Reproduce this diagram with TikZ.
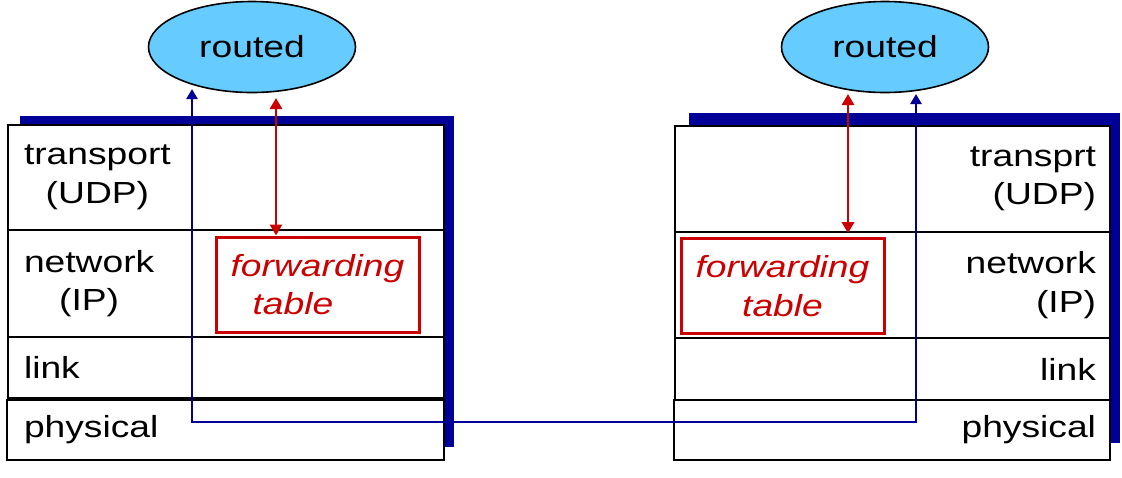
\documentclass[tikz,border=0pt]{standalone}
\usepackage{fontspec}
\setmainfont[FakeStretch=1.22]{Liberation Sans}
\usetikzlibrary{shapes.geometric,arrows.meta}
\definecolor{navy}{RGB}{0,0,153}
\definecolor{ctlred}{RGB}{204,0,0}
\definecolor{sky}{RGB}{102,204,255}
\tikzset{
  layer/.style={draw, fill=white, line width=2.4pt, inner sep=0pt},
  lbl/.style={font=\fontsize{30.5}{38.5}\selectfont, inner sep=0pt},
  daemon/.style={ellipse, draw, line width=1.6pt, fill=sky, inner sep=0pt,
    minimum width=207pt, minimum height=91pt, lbl},
  fwdbox/.style={draw=ctlred, line width=3pt, text=ctlred, inner sep=0pt,
    minimum width=203pt, minimum height=95pt, lbl, font=\fontsize{30.5}{38.5}\selectfont\itshape},
  shadowbox/.style={fill=navy},
  busline/.style={navy, line width=2.8pt, {Triangle[length=10pt,width=11pt]}-{Triangle[length=10pt,width=11pt]}},
  ctlline/.style={ctlred, line width=2.8pt, {Triangle[length=11pt,width=12pt]}-{Triangle[length=11pt,width=12pt]}}
}
\begin{document}
\begin{tikzpicture}[x=1pt,y=-1pt]
\useasboundingbox (0,0) rectangle (1122,477);

% left host
\fill[shadowbox] (20,116) rectangle (454,447);
\node[layer, minimum width=436pt, minimum height=105pt] (tpL) at (226,177.5) {};
\node[layer, minimum width=436pt, minimum height=107pt] (netL) at (226,283.5) {};
\node[layer, minimum width=436pt, minimum height=61pt] (lnkL) at (226,367.5) {};
\node[layer, minimum width=437pt, minimum height=60pt] (phyL) at (225.5,430) {};
\node[lbl, anchor=west, align=center] (tpLtxt) at ([xshift=17pt]tpL.west) {transport\\(UDP)};
\node[lbl, anchor=west, align=center] (netLtxt) at ([xshift=17pt]netL.west) {network\\(IP)};
\node[lbl, anchor=west] (lnkLtxt) at ([xshift=17pt]lnkL.west) {link};
\node[lbl, anchor=west] (phyLtxt) at ([xshift=18pt]phyL.west) {physical};
\node[fwdbox, align=left] (fwdL) at (317.5,284.5) {forwarding\\\hspace*{22pt}table};
\node[daemon] (routedL) at (252,47) {routed};

% right host
\fill[shadowbox] (689,113) rectangle (1120,443);
\node[layer, minimum width=435pt, minimum height=106pt] (tpR) at (892.5,179) {};
\node[layer, minimum width=435pt, minimum height=106pt] (netR) at (892.5,285) {};
\node[layer, minimum width=435pt, minimum height=62pt] (lnkR) at (892.5,369) {};
\node[layer, minimum width=436pt, minimum height=60pt] (phyR) at (892,430) {};
\node[lbl, anchor=east, align=right] (tpRtxt) at ([xshift=-15pt]tpR.east) {transprt\\(UDP)};
\node[lbl, anchor=east, align=right] (netRtxt) at ([xshift=-15pt]netR.east) {network\\(IP)};
\node[lbl, anchor=east] (lnkRtxt) at ([xshift=-15pt]lnkR.east) {link};
\node[lbl, anchor=east] (phyRtxt) at ([xshift=-15pt]phyR.east) {physical};
\node[fwdbox, align=center] (fwdR) at (782.5,286) {forwarding\\table};
\node[daemon] (routedR) at (885,47) {routed};

% routed to routed, through the physical link
\coordinate (dnL) at (192,89);
\coordinate (busL) at (192,422);
\coordinate (busR) at (916,422);
\coordinate (dnR) at (916,94);
\draw[busline] (dnL) -- (busL) -- (busR) -- (dnR);

% routed writes the forwarding table
\coordinate (ctlL) at (276,98);
\coordinate (ctlR) at (848,94);
\draw[ctlline] (ctlL) -- (ctlL |- fwdL.north);
\draw[ctlline] (ctlR) -- (ctlR |- tpR.south);
\end{tikzpicture}
\end{document}
